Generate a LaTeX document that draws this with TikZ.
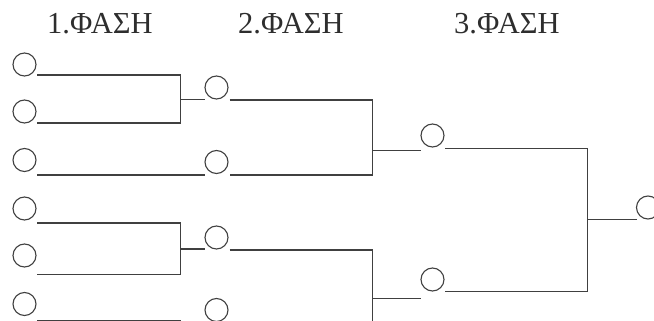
\documentclass[tikz,border=0pt]{standalone}
\usepackage{fontspec}
\setmainfont{Liberation Serif}
\begin{document}
\begin{tikzpicture}[x=1pt,y=-1pt,
  circ/.style={circle,draw=black!75,line width=1.1pt,minimum size=23pt,inner sep=0pt},
  ln/.style={draw=black!75,line width=1.1pt},
  ttl/.style={anchor=base west,inner sep=0pt,text=black!82,font=\fontsize{30.5}{36}\selectfont}]
\useasboundingbox (0,0) rectangle (654,321);
\clip (0,0) rectangle (654,321);
% titles
\node[ttl] (t1) at (47,34) {1.ΦΑΣΗ};
\node[ttl] (t2) at (238,34) {2.ΦΑΣΗ};
\node[ttl] (t3) at (454,34) {3.ΦΑΣΗ};
% column 1
\node[circ] (c11) at (24.5,64.5) {};
\node[circ] (c12) at (24.5,111.5) {};
\node[circ] (c13) at (24.5,160) {};
\node[circ] (c14) at (24.5,208.5) {};
\node[circ] (c15) at (24.5,255.5) {};
\node[circ] (c16) at (24.5,304) {};
% column 2
\node[circ] (c21) at (216.5,87.5) {};
\node[circ] (c22) at (216.5,162) {};
\node[circ] (c23) at (216.5,237.5) {};
\node[circ] (c24) at (216.5,310) {};
% column 3
\node[circ] (c31) at (432.5,135.5) {};
\node[circ] (c32) at (432.5,279.5) {};
% final
\node[circ] (c41) at (648,207.5) {};
% line end points
\coordinate (a11) at (37,75);
\coordinate (a12) at (37,123);
\coordinate (a13) at (37,175);
\coordinate (a14) at (37,223);
\coordinate (a15) at (37,274.5);
\coordinate (a16) at (37,320.8);
\coordinate (j1) at (180.5,99.5);
\coordinate (j2) at (180.5,249);
\coordinate (i21) at (204.5,99.5);
\coordinate (i22) at (204.5,175);
\coordinate (i23) at (204.5,249);
\coordinate (a21) at (229.5,100);
\coordinate (a22) at (229.5,175);
\coordinate (a23) at (229.5,250);
\coordinate (k1) at (372.5,150.5);
\coordinate (k2) at (372.5,298.5);
\coordinate (i31) at (420.5,150.5);
\coordinate (i32) at (420.5,298.5);
\coordinate (a31) at (445,148.3);
\coordinate (a32) at (445,291.7);
\coordinate (m1) at (587.5,219.3);
\coordinate (i41) at (636.5,219.3);
% phase 1 brackets
\draw[ln] (a11) -| (j1) |- (a12);
\draw[ln] (j1) -- (i21);
\draw[ln] (a13) -- (i22);
\draw[ln] (a14) -| (j2) |- (a15);
\draw[ln] (j2) -- (i23);
\draw[ln] (a16) -- (180.5,320.8);
% phase 2 brackets
\draw[ln] (a21) -| (k1) |- (a22);
\draw[ln] (k1) -- (i31);
\draw[ln] (a23) -| (k2) -- (372.5,340);
\draw[ln] (k2) -- (i32);
% phase 3 bracket
\draw[ln] (a31) -| (m1) |- (a32);
\draw[ln] (m1) -- (i41);
\end{tikzpicture}
\end{document}
